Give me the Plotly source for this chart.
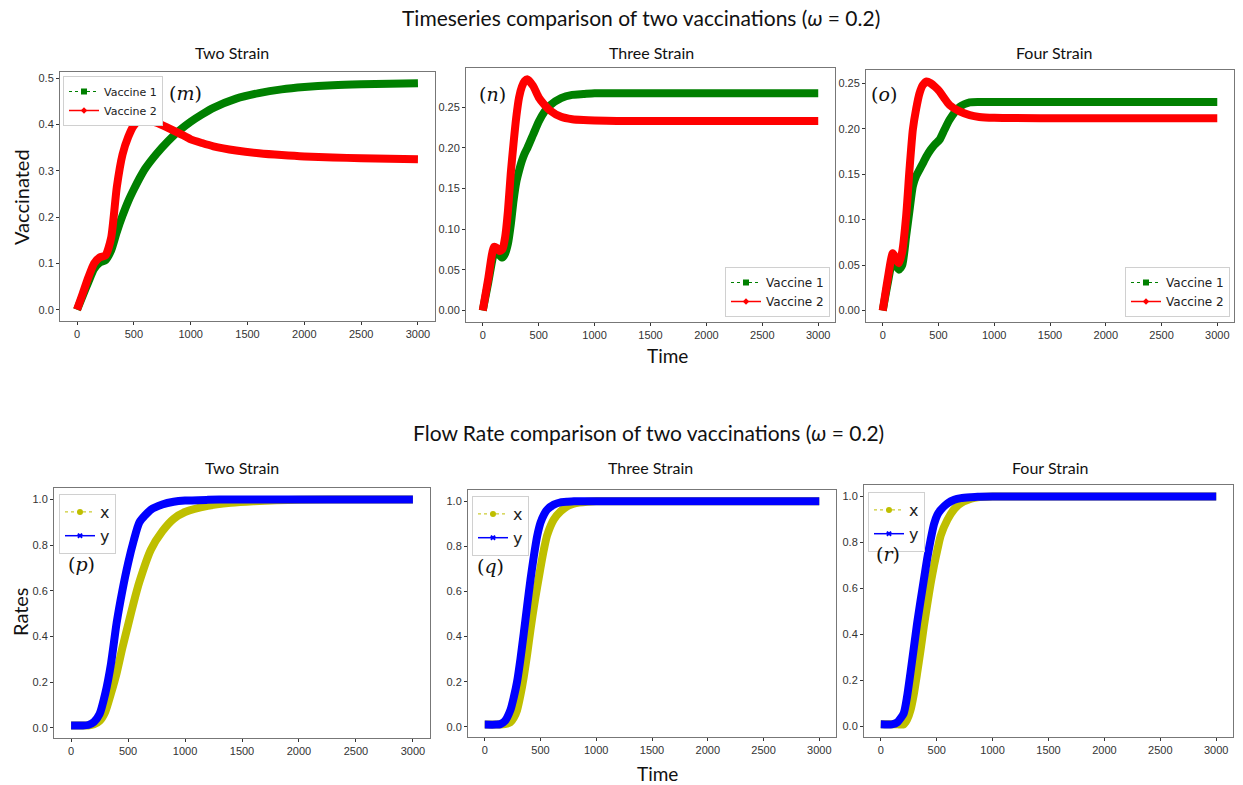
import plotly.graph_objects as go

W, H = 1243, 785

# ---------------- data ----------------
# Top row: vaccinated fraction timeseries
t_two = [0, 50, 100, 150, 200, 250, 300, 350, 400, 450, 500, 550, 600, 700, 800, 900, 1000,
         1100, 1200, 1400, 1600, 1800, 2000, 2250, 2500, 2750, 3000]
vac1_two = [0, 0.03, 0.06, 0.088, 0.102, 0.107, 0.128, 0.168, 0.203, 0.234, 0.26, 0.284, 0.305,
            0.337, 0.364, 0.387, 0.406, 0.422, 0.436, 0.456, 0.468, 0.476, 0.481, 0.485, 0.487,
            0.488, 0.489]
vac2_two = [0, 0.035, 0.07, 0.1, 0.113, 0.117, 0.155, 0.265, 0.335, 0.373, 0.398, 0.409, 0.41,
            0.404, 0.393, 0.381, 0.368, 0.36, 0.353, 0.344, 0.338, 0.334, 0.331, 0.329, 0.327,
            0.326, 0.325]

t_three = [0, 50, 100, 125, 150, 175, 200, 225, 250, 275, 300, 325, 350, 375, 400, 450, 500, 550,
           600, 700, 800, 900, 1000, 1200, 1500, 2000, 2500, 3000]
vac1_three = [0, 0.035, 0.07, 0.074, 0.068, 0.065, 0.07, 0.082, 0.105, 0.135, 0.158, 0.172, 0.184,
              0.193, 0.2, 0.216, 0.232, 0.244, 0.252, 0.261, 0.265, 0.266, 0.267, 0.267, 0.267,
              0.267, 0.267, 0.267]
vac2_three = [0, 0.04, 0.078, 0.077, 0.073, 0.075, 0.09, 0.122, 0.168, 0.205, 0.238, 0.262, 0.275,
              0.282, 0.284, 0.276, 0.262, 0.253, 0.246, 0.238, 0.235, 0.234, 0.2335, 0.233, 0.233,
              0.233, 0.233, 0.233]

t_four = [0, 45, 90, 115, 145, 175, 210, 240, 270, 300, 330, 360, 394, 430, 470, 510, 550, 600,
          690, 780, 865, 1000, 1500, 2000, 2500, 3000]
vac1_four = [0, 0.03, 0.056, 0.05, 0.045, 0.05, 0.082, 0.11, 0.137, 0.148, 0.155, 0.162, 0.17,
             0.177, 0.183, 0.188, 0.198, 0.21, 0.224, 0.229, 0.2295, 0.2295, 0.2295, 0.2295, 0.2295,
             0.2295]
vac2_four = [0, 0.035, 0.063, 0.058, 0.052, 0.065, 0.104, 0.155, 0.199, 0.222, 0.239, 0.248, 0.252,
             0.25, 0.246, 0.241, 0.234, 0.226, 0.219, 0.215, 0.213, 0.212, 0.2115, 0.2115, 0.2115,
             0.2115]

# Bottom row: flow rates
tb_two = [0, 100, 150, 200, 250, 300, 350, 400, 450, 500, 550, 600, 700, 800, 900, 1000, 1200,
          1400, 1600, 1800, 2000, 2500, 3000]
rate_y_two = [0.01, 0.01, 0.012, 0.025, 0.06, 0.15, 0.28, 0.46, 0.6, 0.72, 0.82, 0.9, 0.955, 0.978,
              0.99, 0.995, 0.998, 1, 1, 1, 1, 1, 1]
rate_x_two = [0.01, 0.01, 0.01, 0.015, 0.03, 0.07, 0.15, 0.24, 0.35, 0.45, 0.55, 0.64, 0.78, 0.86,
              0.915, 0.945, 0.972, 0.985, 0.992, 0.996, 0.998, 1.0, 1.0]

tb_three = [0, 100, 140, 180, 230, 260, 290, 320, 350, 380, 410, 440, 470, 500, 530, 560, 620, 680,
            740, 800, 920, 1000, 1500, 2000, 2500, 3000]
rate_y_three = [0.01, 0.01, 0.012, 0.025, 0.074, 0.13, 0.2, 0.3, 0.415, 0.535, 0.652, 0.755, 0.845,
                0.905, 0.94, 0.963, 0.985, 0.995, 0.998, 1, 1, 1, 1, 1, 1, 1]
rate_x_three = [0.01, 0.01, 0.01, 0.012, 0.02, 0.04, 0.074, 0.14, 0.222, 0.32, 0.43, 0.53, 0.62,
                0.705, 0.785, 0.85, 0.92, 0.955, 0.978, 0.99, 0.998, 1, 1, 1, 1, 1]

tb_four = [0, 100, 150, 205, 235, 265, 295, 325, 355, 385, 415, 446, 476, 506, 536, 596, 657, 717,
           807, 867, 1000, 1500, 2000, 2500, 3000]
rate_y_four = [0.01, 0.01, 0.02, 0.058, 0.13, 0.232, 0.34, 0.449, 0.545, 0.638, 0.73, 0.812, 0.88,
               0.92, 0.942, 0.97, 0.986, 0.993, 0.997, 0.999, 1, 1, 1, 1, 1]
rate_x_four = [0.01, 0.01, 0.01, 0.01, 0.03, 0.07, 0.14, 0.232, 0.33, 0.435, 0.53, 0.623, 0.7,
               0.768, 0.83, 0.899, 0.945, 0.971, 0.99, 0.997, 1, 1, 1, 1, 1]

strain_titles = ["Two Strain", "Three Strain", "Four Strain"]
panel_tags = ["m", "n", "o", "p", "q", "r"]
x_ticks = [0, 500, 1000, 1500, 2000, 2500, 3000]

GREEN, RED, BLUE, YEL = "#008000", "#ff0000", "#0000ff", "#bfbf00"
TICKFONT = dict(family="Liberation Sans, Arial, sans-serif", size=11, color="#333")
TXTFONT = "Lato, Open Sans, sans-serif"

# ---------------- layout geometry (pixels) ----------------
# (left, right, top, bottom)
panels = [
    (60, 435, 72, 321),
    (466, 835, 68, 322),
    (866, 1234, 70, 322),
    (54, 430, 488, 738),
    (468, 836, 490, 737),
    (864, 1233, 485, 737),
]
yranges = [[-0.0245, 0.5135], [-0.0142, 0.298], [-0.0126, 0.2646],
           [-0.045, 1.05], [-0.045, 1.05], [-0.045, 1.05]]
ytick_sets = [
    [0, 0.1, 0.2, 0.3, 0.4, 0.5],
    [0, 0.05, 0.1, 0.15, 0.2, 0.25],
    [0, 0.05, 0.1, 0.15, 0.2, 0.25],
    [0, 0.2, 0.4, 0.6, 0.8, 1.0],
    [0, 0.2, 0.4, 0.6, 0.8, 1.0],
    [0, 0.2, 0.4, 0.6, 0.8, 1.0],
]
ytick_fmt = [".1f", ".2f", ".2f", ".1f", ".1f", ".1f"]

fig = go.Figure()

series = [
    (t_two, vac1_two, vac2_two, "Vaccine 1", "Vaccine 2", GREEN, RED),
    (t_three, vac1_three, vac2_three, "Vaccine 1", "Vaccine 2", GREEN, RED),
    (t_four, vac1_four, vac2_four, "Vaccine 1", "Vaccine 2", GREEN, RED),
    (tb_two, rate_x_two, rate_y_two, "x", "y", YEL, BLUE),
    (tb_three, rate_x_three, rate_y_three, "x", "y", YEL, BLUE),
    (tb_four, rate_x_four, rate_y_four, "x", "y", YEL, BLUE),
]

for i, (t, a, b, na, nb, ca, cb) in enumerate(series):
    k = "" if i == 0 else str(i + 1)
    xa, ya = "x" + k, "y" + k
    lg = "legend" + k
    fig.add_trace(go.Scatter(x=t, y=a, mode="lines", line=dict(color=ca, width=8, shape="spline", smoothing=0.6),
                             xaxis=xa, yaxis=ya, showlegend=False, hoverinfo="skip"))
    fig.add_trace(go.Scatter(x=t, y=b, mode="lines", line=dict(color=cb, width=8, shape="spline", smoothing=0.6),
                             xaxis=xa, yaxis=ya, showlegend=False, hoverinfo="skip"))
    # legend proxies (thin line + marker like matplotlib)
    if i < 3:
        sa, sb = "square", "diamond"
    else:
        sa, sb = "circle", "x"
    fig.add_trace(go.Scatter(x=[None], y=[None], name=na, mode="lines+markers",
                             line=dict(color=ca, width=1, dash="dot"),
                             marker=dict(symbol=sa, size=6, color=ca),
                             xaxis=xa, yaxis=ya, legend=lg, showlegend=True))
    fig.add_trace(go.Scatter(x=[None], y=[None], name=nb, mode="lines+markers",
                             line=dict(color=cb, width=1.5),
                             marker=dict(symbol=sb, size=5, color=cb),
                             xaxis=xa, yaxis=ya, legend=lg, showlegend=True))

layout = dict(width=W, height=H, margin=dict(l=0, r=0, t=0, b=0),
              paper_bgcolor="white", plot_bgcolor="white", autosize=False)

for i, (l, r, tp, bt) in enumerate(panels):
    k = "" if i == 0 else str(i + 1)
    layout["xaxis" + k] = dict(domain=[l / W, r / W], anchor="y" + k, range=[-150, 3150],
                               tickvals=x_ticks, ticks="outside", ticklen=3, tickcolor="#333",
                               showline=True, mirror=True, linecolor="#777", linewidth=1,
                               showgrid=False, zeroline=False, tickfont=TICKFONT)
    layout["yaxis" + k] = dict(domain=[1 - bt / H, 1 - tp / H], anchor="x" + k, range=yranges[i],
                               tickvals=ytick_sets[i], tickformat=ytick_fmt[i], ticks="outside",
                               ticklen=3, tickcolor="#333",
                               showline=True, mirror=True, linecolor="#777", linewidth=1,
                               showgrid=False, zeroline=False, tickfont=TICKFONT)

leg_common = dict(xref="paper", yref="paper", bgcolor="white", bordercolor="#d0d0d0",
                  borderwidth=1, tracegroupgap=0, itemwidth=30)
legend_pos = [
    (63, 76, "left", "top", 11),
    (830, 317, "right", "bottom", 12),
    (1230, 317, "right", "bottom", 12),
    (59, 494, "left", "top", 16),
    (472, 496, "left", "top", 16),
    (868, 492, "left", "top", 16),
]
for i, (px, py, xa, ya, fs) in enumerate(legend_pos):
    k = "" if i == 0 else str(i + 1)
    d = dict(leg_common)
    d.update(x=px / W, y=1 - py / H, xanchor=xa, yanchor=ya,
             font=dict(family="DejaVu Sans, sans-serif", size=fs, color="#222"))
    layout["legend" + k] = d

fig.update_layout(**layout)

ann = []
def add_text(text, px, py, size, family=TXTFONT, angle=0, color="#111"):
    ann.append(dict(text=text, x=px / W, y=1 - py / H, xref="paper", yref="paper",
                    showarrow=False, xanchor="center", yanchor="middle", textangle=angle,
                    font=dict(family=family, size=size, color=color)))

add_text("Timeseries comparison of two vaccinations (<i>ω</i> = 0.2)", 641, 18, 21)
add_text("Flow Rate comparison of two vaccinations (<i>ω</i> = 0.2)", 648, 432, 21)

sub_x_top = [232, 651, 1054]
sub_x_bot = [242, 650, 1050]
for j in range(3):
    add_text(strain_titles[j], sub_x_top[j], 53, 16)
    add_text(strain_titles[j], sub_x_bot[j], 467, 16)

add_text("Vaccinated", 21, 197, 20, angle=-90)
add_text("Rates", 20, 612, 20, angle=-90)
add_text("Time", 668, 355, 19)
add_text("Time", 657, 773, 19)

tag_pos = [(185, 93), (492, 94), (884, 94), (81, 564), (490, 566), (888, 554)]
for tg, (px, py) in zip(panel_tags, tag_pos):
    add_text("(<i>%s</i>)" % tg, px, py, 19, family="DejaVu Serif, Liberation Serif, serif")

fig.update_layout(annotations=ann)

fig.write_html("out.html")
